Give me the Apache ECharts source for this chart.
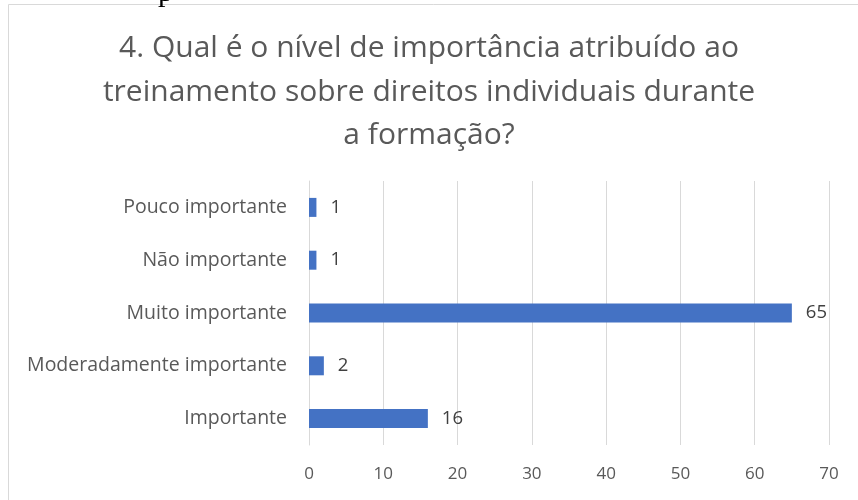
<!DOCTYPE html>
<html><head><meta charset="utf-8">
<script src="https://cdn.jsdelivr.net/npm/echarts@6/dist/echarts.min.js"></script>
<style>html,body{margin:0;padding:0;background:#fff}#c{width:858px;height:500px}</style>
</head><body><div id="c"></div>
<script>
const titleText = "4. Qual é o nível de importância atribuído ao\ntreinamento sobre direitos individuais durante\na formação?";
const categories = ["Importante", "Moderadamente importante", "Muito importante", "Não importante", "Pouco importante"];
const values = [16, 2, 65, 1, 1];
const xTicks = [0, 10, 20, 30, 40, 50, 60, 70];

const FONT = "Open Sans";
const chart = echarts.init(document.getElementById('c'), null, {renderer: 'canvas'});
chart.setOption({
  backgroundColor: '#fff',
  animation: false,
  graphic: [
    {type: 'rect', shape: {x: 8.5, y: 4.5, width: 900, height: 600}, style: {fill: 'none', stroke: '#d9d9d9', lineWidth: 1}, z: -1},
    {type: 'text', left: 158, top: -22, style: {text: 'p', font: '30px "Liberation Serif"', fill: '#000'}}
  ],
  title: {
    text: titleText, left: 'center', top: 22,
    textStyle: {fontFamily: FONT, fontSize: 30, fontWeight: 'normal', color: '#595959', lineHeight: 43.5}
  },
  grid: {left: 309, right: 29, top: 181, bottom: 55, containLabel: false},
  xAxis: {
    type: 'value', min: 0, max: 70, interval: 10,
    axisLine: {show: false}, axisTick: {show: false},
    splitLine: {lineStyle: {color: '#d9d9d9', width: 1}},
    axisLabel: {fontFamily: FONT, fontSize: 17, color: '#595959', margin: 21,
      formatter: v => xTicks.includes(v) ? String(v) : ''}
  },
  yAxis: {
    type: 'category', data: categories,
    axisLine: {lineStyle: {color: '#d9d9d9', width: 1}},
    axisTick: {show: false},
    axisLabel: {fontFamily: FONT, fontSize: 19.5, color: '#595959', margin: 22}
  },
  series: [{
    type: 'bar', data: values, barWidth: 19,
    itemStyle: {color: '#4472c4'},
    label: {show: true, position: 'right', distance: 14, fontFamily: FONT, fontSize: 18.5, color: '#404040'}
  }]
});
</script></body></html>
